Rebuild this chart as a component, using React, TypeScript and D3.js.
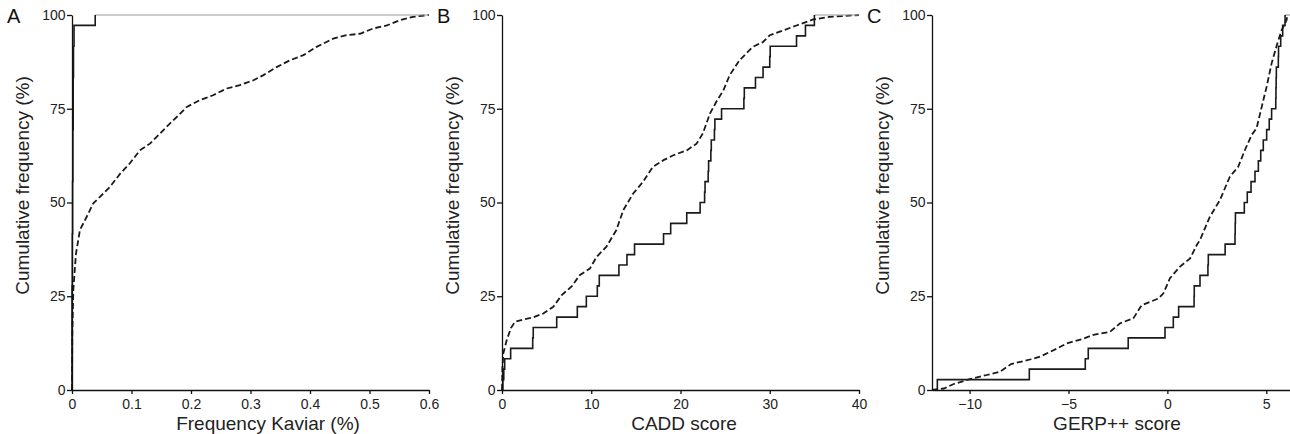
import React, { useEffect, useRef } from "react";
import * as d3 from "d3";

const WIDTH = 1290;
const HEIGHT = 434;
const Y_TOP = 15;
const Y_BOTTOM = 390;
const FONT = "'Liberation Sans', Arial, Helvetica, sans-serif";
const INK = "#1a1a1a";

const yTicks = [0, 25, 50, 75, 100];

// A: frequency in Kaviar (%)
const kaviarTicks = [0, 0.1, 0.2, 0.3, 0.4, 0.5, 0.6];
const kaviarSolid = [
  0, 0, 0, 0, 0, 0, 0, 0, 0, 0, 0.0005, 0.0005, 0.0005, 0.0005, 0.0005, 0.001,
  0.001, 0.001, 0.001, 0.001, 0.0015, 0.0015, 0.0015, 0.0015, 0.0015, 0.002,
  0.002, 0.002, 0.002, 0.002, 0.0025, 0.0025, 0.0025, 0.0034, 0.0034, 0.039,
];
const kaviarDashed: [number, number][] = [
  [0, 0], [0.0005, 15], [0.0022, 26.7], [0.0067, 36.4], [0.0134, 42.7],
  [0.0247, 46.2], [0.0358, 49.8], [0.047, 51.5], [0.064, 54.2], [0.081, 57.7],
  [0.097, 60.4], [0.114, 63.9], [0.131, 65.7], [0.148, 68.4], [0.159, 70.2],
  [0.176, 72.8], [0.193, 75.5], [0.215, 77.3], [0.237, 78.6], [0.26, 80.4],
  [0.282, 81.3], [0.305, 82.6], [0.321, 83.9], [0.344, 86.1], [0.366, 87.9],
  [0.389, 89.3], [0.411, 91.5], [0.439, 93.7], [0.461, 94.6], [0.484, 95.0],
  [0.506, 96.4], [0.529, 97.2], [0.551, 98.6], [0.573, 99.5], [0.6, 100],
];

// B: CADD score
const caddTicks = [0, 10, 20, 30, 40];
const caddSolid = [
  0.1, 0.2, 0.3, 0.97, 3.44, 3.5, 6.13, 8.44, 9.45, 10.68, 10.9, 13.1, 14.0,
  14.85, 18.1, 18.9, 20.7, 22.2, 22.7, 22.75, 23.1, 23.15, 23.4, 23.45, 23.8,
  23.85, 24.6, 27.1, 27.15, 28.4, 29.25, 30.0, 30.05, 33.0, 34.0, 35.0,
];
const caddDashed: [number, number][] = [
  [0, 0], [0.05, 6], [0.15, 9.8], [0.53, 13.3], [1.0, 16.5], [1.46, 18.2],
  [2.39, 18.8], [3.5, 19.4], [4.63, 20.4], [5.75, 22.2], [6.69, 25.3],
  [7.8, 27.6], [8.7, 30.6], [9.85, 32.4], [10.6, 35.5], [11.7, 38.2],
  [12.8, 42.6], [13.6, 48], [14.7, 52.4], [15.8, 55.5], [16.9, 59.5],
  [18.1, 61.3], [19.2, 62.6], [20.7, 63.9], [21.8, 65.7], [22.5, 68.4],
  [23.3, 73.7], [24.0, 76.8], [24.8, 79.9], [25.5, 83.9], [26.6, 87.9],
  [28.1, 91.5], [29.25, 92.8], [30.0, 94.6], [31.5, 95.9], [33.0, 97.2],
  [34.85, 98.8], [36.7, 99.5], [40, 100],
];

// C: GERP++ score
const gerpTicks = [-10, -5, 0, 5];
const gerpSolid = [
  -11.63, -6.98, -4.15, -4.0, -1.98, -0.12, 0.3, 0.57, 1.35, 1.36, 1.65, 2.05,
  2.07, 2.92, 3.42, 3.43, 3.44, 3.89, 4.04, 4.23, 4.43, 4.6, 4.72, 4.85, 5.02,
  5.15, 5.27, 5.48, 5.49, 5.5, 5.51, 5.61, 5.62, 5.73, 5.83, 5.95,
];
const gerpDashed: [number, number][] = [
  [-11.9, 0], [-11.3, 0.4], [-10.8, 1.6], [-9.98, 2.9], [-9.13, 4.0],
  [-8.46, 4.9], [-7.9, 6.9], [-6.9, 8.2], [-6.44, 8.9], [-5.6, 11.0],
  [-5.1, 12.4], [-4.3, 13.6], [-3.74, 14.7], [-2.9, 15.5], [-2.39, 17.8],
  [-1.72, 19.1], [-1.3, 22.6], [-0.88, 23.5], [-0.45, 24.4], [-0.2, 25.8],
  [0.13, 29.8], [0.64, 32.9], [1.15, 35.1], [1.48, 38.6], [1.65, 40],
  [2.15, 46.2], [2.66, 50.7], [3.16, 56.9], [3.58, 59.5], [3.92, 64],
  [4.26, 68], [4.51, 69.8], [4.77, 75.5], [5.02, 80.9], [5.27, 87.1],
  [5.56, 92.4], [5.78, 96], [6.03, 98.7], [6.06, 100],
];

const PANELS = [
  {
    label: "A",
    xTitle: "Frequency Kaviar (%)",
    domain: [0, 0.6] as [number, number],
    range: [72, 429] as [number, number],
    ticks: kaviarTicks,
    solid: kaviarSolid,
    dashed: kaviarDashed,
    labelX: 7,
    yTitleX: 28.5,
    xTitleX: 268,
  },
  {
    label: "B",
    xTitle: "CADD score",
    domain: [0, 40] as [number, number],
    range: [502, 859] as [number, number],
    ticks: caddTicks,
    solid: caddSolid,
    dashed: caddDashed,
    labelX: 437,
    yTitleX: 458.5,
    xTitleX: 684,
  },
  {
    label: "C",
    xTitle: "GERP++ score",
    domain: [-11.9, 6.2] as [number, number],
    range: [932, 1290] as [number, number],
    ticks: gerpTicks,
    solid: gerpSolid,
    dashed: gerpDashed,
    labelX: 867,
    yTitleX: 888.5,
    xTitleX: 1117,
  },
];

export default function App() {
  const svgRef = useRef<SVGSVGElement | null>(null);

  useEffect(() => {
    const svg = d3.select(svgRef.current);
    svg.selectAll("*").remove();

    const y = d3.scaleLinear().domain([0, 100]).range([Y_BOTTOM, Y_TOP]);
    const fmt = d3.format("");

    for (const p of PANELS) {
      const x = d3.scaleLinear().domain(p.domain).range(p.range);
      const g = svg.append("g");

      const line = d3
        .line<[number, number]>()
        .x((d) => x(d[0]))
        .y((d) => y(d[1]));

      // dashed curve
      g.append("path")
        .attr("fill", "none")
        .attr("stroke", INK)
        .attr("stroke-width", 1.8)
        .attr("stroke-dasharray", "6,3")
        .attr("d", line(p.dashed)!);

      // solid empirical cdf
      const sorted = [...p.solid].sort((a, b) => a - b);
      const n = sorted.length;
      const steps: [number, number][] = [
        [p.domain[0], 0],
        ...sorted.map((v, i) => [v, ((i + 1) / n) * 100] as [number, number]),
      ];
      const last = sorted[n - 1];

      g.append("path")
        .attr("fill", "none")
        .attr("stroke", "#999")
        .attr("stroke-width", 1.2)
        .attr(
          "d",
          line([
            [last, 100],
            [p.domain[1], 100],
          ])!,
        );

      g.append("path")
        .attr("fill", "none")
        .attr("stroke", INK)
        .attr("stroke-width", 1.6)
        .attr("d", line.curve(d3.curveStepAfter)(steps)!);

      // axes
      const xAxis = g
        .append("g")
        .attr("transform", `translate(0,${Y_BOTTOM})`)
        .call(
          d3
            .axisBottom(x)
            .tickValues(p.ticks)
            .tickFormat((d) => fmt(d as number))
            .tickSize(4)
            .tickPadding(5)
            .tickSizeOuter(0),
        );

      const yAxis = g
        .append("g")
        .attr("transform", `translate(${p.range[0]},0)`)
        .call(
          d3
            .axisLeft(y)
            .tickValues(yTicks)
            .tickSize(5)
            .tickPadding(1.5)
            .tickSizeOuter(0),
        );

      for (const ax of [xAxis, yAxis]) {
        ax.attr("font-family", FONT).attr("font-size", 14);
        ax.selectAll("path, line")
          .attr("stroke", "#111")
          .attr("stroke-width", 1.3);
        ax.selectAll("text").attr("fill", "#222");
      }

      // titles
      g.append("text")
        .attr("x", p.xTitleX)
        .attr("y", 429.5)
        .attr("text-anchor", "middle")
        .attr("font-family", FONT)
        .attr("font-size", 19)
        .attr("fill", "#222")
        .text(p.xTitle);

      g.append("text")
        .attr("transform", `translate(${p.yTitleX},185.5) rotate(-90)`)
        .attr("text-anchor", "middle")
        .attr("font-family", FONT)
        .attr("font-size", 19)
        .attr("fill", "#222")
        .text("Cumulative frequency (%)");

      g.append("text")
        .attr("x", p.labelX)
        .attr("y", 23)
        .attr("font-family", FONT)
        .attr("font-size", 20)
        .attr("fill", "#111")
        .text(p.label);
    }
  }, []);

  return (
    <div style={{ position: "absolute", left: 0, top: 0 }}>
      <svg
        ref={svgRef}
        width={WIDTH}
        height={HEIGHT}
        style={{ display: "block", background: "#fff" }}
      />
    </div>
  );
}
